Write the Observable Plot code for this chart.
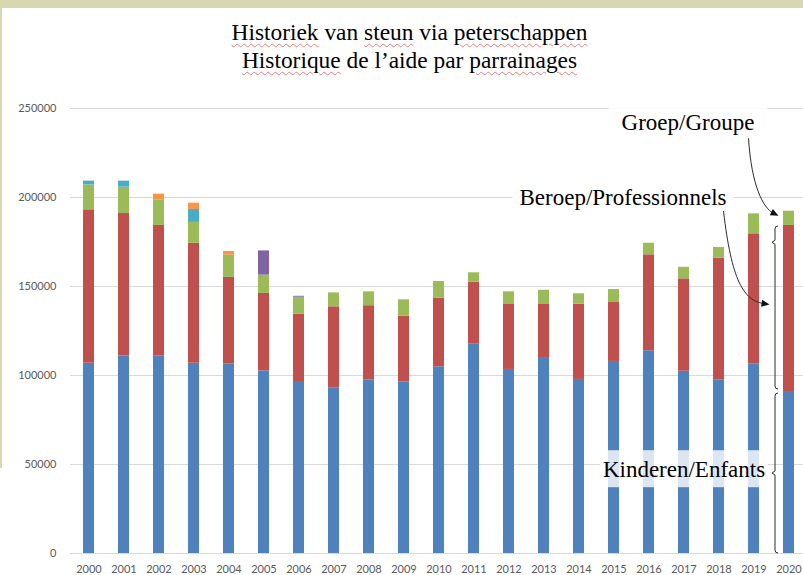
<!DOCTYPE html>
<html>
<head>
<meta charset="utf-8">
<script src="https://cdn.jsdelivr.net/npm/d3@7"></script>
<script src="https://cdn.jsdelivr.net/npm/@observablehq/plot@0.6"></script>
<style>
  html, body { margin: 0; padding: 0; background: #fff; }
  #wrap { position: relative; width: 803px; height: 575px; overflow: hidden; background: #fff; }
  #wrap svg { position: absolute; left: 0; top: 0; }
  #title { position: absolute; left: 8px; top: 18px; width: 803px; text-align: center;
    font-family: "Liberation Serif", "Times New Roman", serif; font-size: 23.4px; line-height: 28px;
    color: #000; z-index: 2; }
  .sq { text-decoration: underline wavy #e88080; text-decoration-thickness: 1px; text-underline-offset: 3px; }
  #topband { position: absolute; left: 0; top: 0; width: 803px; height: 8px; background: #d8d8b0; z-index: 3; }
  #leftband { position: absolute; left: 0; top: 0; width: 2px; height: 468px; background: #d8d8b0; z-index: 3; }
</style>
</head>
<body>
<div id="wrap">
  <div id="topband"></div>
  <div id="leftband"></div>
  <div id="title">
    <div><span class="sq">Historiek</span> van <span class="sq">steun</span> via <span class="sq">peterschappen</span></div>
    <div><span class="sq">Historique</span> de l’aide par <span class="sq">parrainages</span></div>
  </div>
</div>
<script>
// ---- data ----
const years = ["2000","2001","2002","2003","2004","2005","2006","2007","2008","2009","2010",
               "2011","2012","2013","2014","2015","2016","2017","2018","2019","2020"];
const kinderen = [106900,111000,110900,106900,106400,102600,96100,93100,97400,96400,104900,
                  117600,103400,109600,97800,107900,113900,102400,97400,106600,91000];
const beroep   = [86200,80000,73400,67400,48700,43500,38300,45500,41800,36900,38500,
                  34800,36500,30300,42300,33100,53900,51900,68500,73000,93300];
const groep    = [14000,14800,14400,11700,12500,10300,9600,7800,7800,9200,9400,
                  5300,7100,8000,5800,7300,6500,6500,6000,11200,8000];
const reeks4   = [0,0,0,0,0,13600,500,0,0,0,0,0,0,0,0,0,0,0,0,0,0];
const reeks5   = [2100,3400,0,7300,0,0,0,0,0,0,0,0,0,0,0,0,0,0,0,0,0];
const reeks6   = [0,0,3200,3500,2100,0,0,0,0,0,0,0,0,0,0,0,0,0,0,0,0];
const seriesNames  = ["Kinderen/Enfants","Beroep/Professionnels","Groep/Groupe","Reeks 4","Reeks 5","Reeks 6"];
const seriesColors = ["#4F81BD","#C0504D","#9BBB59","#8064A2","#4BACC6","#F79646"];
const yTicks = [0,50000,100000,150000,200000,250000];

const seriesValues = [kinderen, beroep, groep, reeks4, reeks5, reeks6];
const rows = [];
seriesValues.forEach((vals, s) => vals.forEach((v, i) => rows.push({year: years[i], series: seriesNames[s], value: v})));

const PAD_INNER = 0.695;

// arrows and braces pointing at the 2020 bar
function annotations(index, scales) {
  const x = scales.x, y = scales.y;
  const step = x(years[1]) - x(years[0]);
  const bw = typeof x.bandwidth === "function" ? x.bandwidth() : step * (1 - PAD_INNER);
  const last = years.length - 1;
  const cx = x(years[last]) + bw / 2;
  const blueTop = kinderen[last];
  const redTop = blueTop + beroep[last];
  const greenTop = redTop + groep[last];
  const g = d3.create("svg:g");
  const lines = g.append("g").attr("fill", "none").attr("stroke", "#2b2b2b").attr("stroke-width", 1);
  const heads = g.append("g").attr("fill", "#111").attr("stroke", "none");

  function brace(x0, top, bottom, tick) {
    return `M${x0 + 3},${top} Q${x0},${top} ${x0},${top + 3} L${x0},${tick - 2} L${x0 - 3},${tick} L${x0},${tick + 2} L${x0},${bottom - 3} Q${x0},${bottom} ${x0 + 3},${bottom}`;
  }
  const bx = cx - 13.5;
  const b1top = y(redTop) + 1, b1bot = y(blueTop) - 2;
  lines.append("path").attr("d", brace(bx, b1top, b1bot, b1top + 0.1 * (b1bot - b1top)));
  const b2top = y(blueTop) + 2, b2bot = y(0);
  lines.append("path").attr("d", brace(bx, b2top, b2bot, (b2top + b2bot) / 2));

  function arrow(p0, c1, c2, p1) {
    const ang = Math.atan2(p1[1] - c2[1], p1[0] - c2[0]);
    const L = 8, W = 3.5;
    const e = [p1[0] - Math.cos(ang) * (L - 2), p1[1] - Math.sin(ang) * (L - 2)];
    lines.append("path").attr("d", `M${p0[0]},${p0[1]} C${c1[0]},${c1[1]} ${c2[0]},${c2[1]} ${e[0]},${e[1]}`);
    const bxp = p1[0] - Math.cos(ang) * L, byp = p1[1] - Math.sin(ang) * L;
    const nx = -Math.sin(ang) * W, ny = Math.cos(ang) * W;
    heads.append("path").attr("d", `M${p1[0]},${p1[1]} L${bxp + nx},${byp + ny} L${bxp - nx},${byp - ny} Z`);
  }
  // Groep arrow
  const g0 = y(242000) + 16;
  arrow([cx - 40, g0], [cx - 37, g0 + 48], [cx - 25, g0 + 70], [cx - 10, y(greenTop) + 5]);
  // Beroep arrow
  const r0 = y(200000) + 14;
  const rt = (b1top + b1bot) / 2 - 3;
  arrow([cx - 65, r0], [cx - 57, r0 + 69], [cx - 45, rt - 4], [cx - 19, rt]);
  return g.node();
}

const serif = "Liberation Serif, Times New Roman, serif";

const plot = Plot.plot({
  width: 803,
  height: 575,
  marginTop: 108,
  marginBottom: 22,
  marginLeft: 70,
  marginRight: 0,
  style: {fontFamily: "Lato, sans-serif", fontSize: "11px", color: "#595959", background: "transparent", overflow: "visible"},
  x: {domain: years, paddingInner: PAD_INNER, paddingOuter: 0.28, align: 0.6, label: null},
  y: {domain: [0, 250000], label: null},
  color: {domain: seriesNames, range: seriesColors},
  marks: [
    Plot.gridY(yTicks, {stroke: "#d9d9d9", strokeOpacity: 1}),
    Plot.barY(rows, {x: "year", y: "value", fill: "series"}),
    Plot.axisY({ticks: yTicks, tickSize: 0, tickPadding: 14, tickFormat: "d", fontSize: 11}),
    Plot.axisX({tickSize: 0, tickPadding: 12, fontSize: 11}),
    Plot.text([seriesNames[2]], {x: () => years[17], y: () => 242000, text: d => d, dx: 4,
      fontFamily: serif, fontSize: 23, fill: "#000"}),
    Plot.text([seriesNames[1]], {x: () => years[15], y: () => 200000, text: d => d, dx: 9,
      fontFamily: serif, fontSize: 23, fill: "#000"}),
    Plot.text([seriesNames[0]], {x: () => years[17], y: () => 47000, text: d => d, dx: 0,
      fontFamily: serif, fontSize: 23, fill: "#000"}),
    annotations
  ]
});

document.getElementById("wrap").appendChild(plot);

// boxes behind the annotation labels
const boxSpecs = {
  "Groep/Groupe": {px: 13, pt: 2, pb: 2, op: 1},
  "Beroep/Professionnels": {px: 7, pt: 2, pb: 2, op: 1},
  "Kinderen/Enfants": {px: 3, pt: 7, pb: 5, op: 0.8}
};
plot.querySelectorAll("text").forEach(t => {
  const spec = boxSpecs[t.textContent];
  if (!spec) return;
  const bb = t.getBBox();
  const r = document.createElementNS("http://www.w3.org/2000/svg", "rect");
  r.setAttribute("x", bb.x - spec.px);
  r.setAttribute("y", bb.y - spec.pt);
  r.setAttribute("width", bb.width + 2 * spec.px);
  r.setAttribute("height", bb.height + spec.pt + spec.pb);
  r.setAttribute("fill", "#fff");
  r.setAttribute("fill-opacity", spec.op);
  const tr = t.getAttribute("transform");
  if (tr) r.setAttribute("transform", tr);
  t.parentNode.insertBefore(r, t);
});
</script>
</body>
</html>
